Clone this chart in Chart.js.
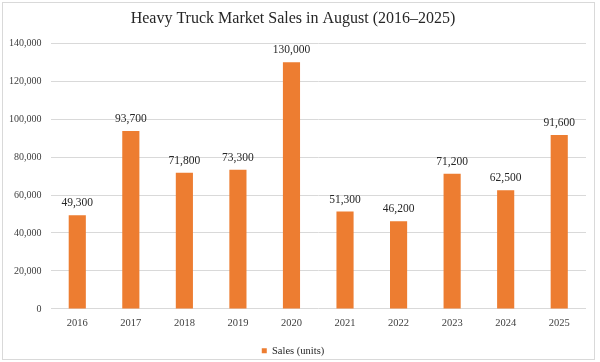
<!DOCTYPE html>
<html>
<head>
<meta charset="utf-8">
<script src="https://cdn.jsdelivr.net/npm/chart.js@4.4.1/dist/chart.umd.min.js"></script>
<style>
html,body{margin:0;padding:0;background:#fff;}
#wrap{position:relative;width:600px;height:362px;}
</style>
</head>
<body>
<div id="wrap"><canvas id="c"></canvas></div>
<script>
const categories = ['2016','2017','2018','2019','2020','2021','2022','2023','2024','2025'];
const salesUnits = [49300, 93700, 71800, 73300, 130000, 51300, 46200, 71200, 62500, 91600];
const yTicks = [0, 20000, 40000, 60000, 80000, 100000, 120000, 140000];
const titleText = 'Heavy Truck Market Sales in August (2016\u20132025)';
const seriesName = 'Sales (units)';

const FONT = '"Liberation Serif", "Times New Roman", serif';
const fmt = v => v.toLocaleString('en-US');

const labelPlugin = {
  id: 'valueLabels',
  afterDatasetsDraw(chart) {
    const ctx = chart.ctx;
    const meta = chart.getDatasetMeta(0);
    ctx.save();
    ctx.font = '11.5px ' + FONT;
    ctx.fillStyle = '#262626';
    ctx.textAlign = 'center';
    ctx.textBaseline = 'middle';
    meta.data.forEach((bar, i) => {
      ctx.fillText(fmt(chart.data.datasets[0].data[i]), bar.x, bar.y - 12);
    });
    ctx.restore();
  }
};
const borderPlugin = {
  id: 'outerBorder',
  afterDraw(chart) {
    const ctx = chart.ctx;
    ctx.save();
    ctx.strokeStyle = '#d9d9d9';
    ctx.lineWidth = 1;
    ctx.strokeRect(2.5, 2.5, 592, 357);
    ctx.restore();
  }
};

new Chart(document.getElementById('c'), {
  type: 'bar',
  data: {
    labels: categories,
    datasets: [{
      label: seriesName,
      data: salesUnits,
      backgroundColor: '#ED7D31',
      borderWidth: 0,
      categoryPercentage: 1,
      barPercentage: 0.32
    }]
  },
  options: {
    responsive: true,
    maintainAspectRatio: false,
    animation: false,
    layout: { padding: { top: 7, right: 14, left: 0, bottom: -4 } },
    plugins: {
      title: {
        display: true,
        text: titleText,
        color: '#262626',
        font: { family: FONT, size: 16, weight: 'normal' },
        padding: { top: 2, bottom: 15 }
      },
      legend: {
        position: 'bottom',
        labels: {
          color: '#262626',
          font: { family: FONT, size: 10.5 },
          boxWidth: 5, boxHeight: 5,
          padding: 0
        }
      },
      tooltip: { enabled: false }
    },
    scales: {
      x: {
        grid: { display: false },
        border: { display: false },
        ticks: { color: '#404040', font: { family: FONT, size: 10.5 }, padding: 0 },
        afterFit(axis) { axis.height += 16; }
      },
      y: {
        min: 0, max: 140000,
        afterBuildTicks(axis) { axis.ticks = yTicks.map(v => ({ value: v })); },
        grid: { color: '#d9d9d9', drawTicks: false },
        border: { display: false },
        ticks: { color: '#404040', font: { family: FONT, size: 10 }, padding: 9, callback: v => fmt(v) }
      }
    }
  },
  plugins: [labelPlugin, borderPlugin]
});
</script>
</body>
</html>
